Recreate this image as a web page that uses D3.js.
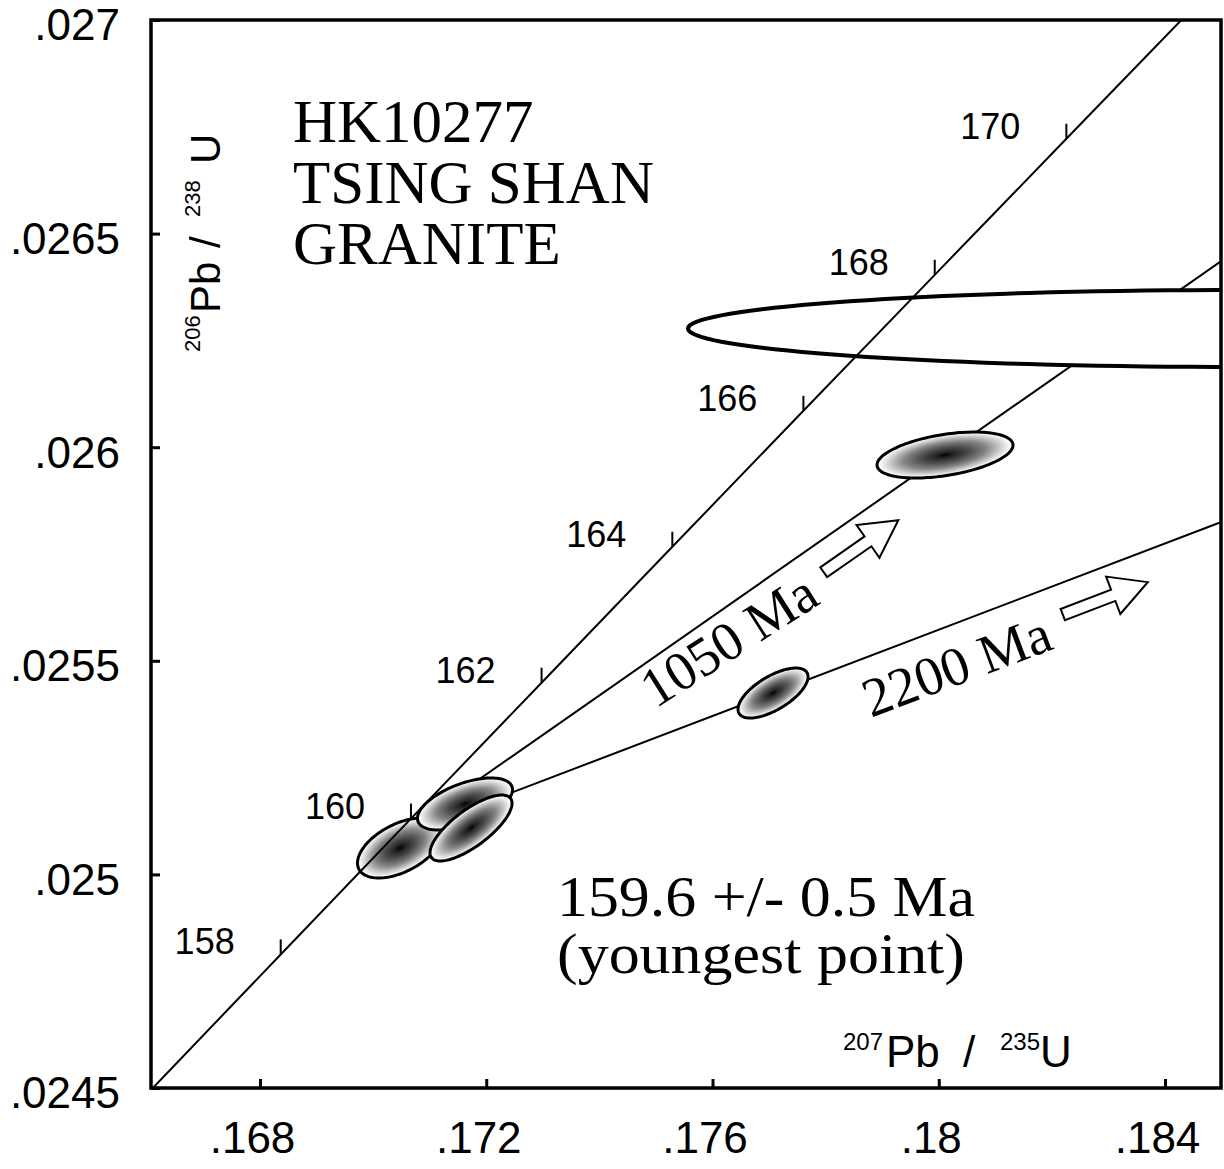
<!DOCTYPE html>
<html><head><meta charset="utf-8">
<script src="https://cdn.jsdelivr.net/npm/d3@7"></script>
<style>body{margin:0;background:#fff} svg{display:block}</style>
</head><body>
<svg id="chart" width="1224" height="1169"></svg>
<script>
// ---------------- data ----------------
const xTicks = [0.168, 0.172, 0.176, 0.180, 0.184];
const xTickLabels = [".168", ".172", ".176", ".18", ".184"];
const yTicks = [0.0245, 0.025, 0.0255, 0.026, 0.0265, 0.027];
const yTickLabels = [".0245", ".025", ".0255", ".026", ".0265", ".027"];

// concordia (207Pb/235U, 206Pb/238U) by age in Ma
const concordiaAges = [156, 158, 160, 162, 164, 166, 168, 170, 172];
const concordiaX = [0.166067, 0.168366, 0.170669, 0.172978, 0.175290, 0.177607, 0.179929, 0.182256, 0.184587];
const concordiaY = [0.0244947, 0.0248126, 0.0251306, 0.0254487, 0.0257669, 0.0260852, 0.0264035, 0.0267220, 0.0270406];
const concordiaTickAges = [158, 160, 162, 164, 166, 168, 170];

// error ellipses: centre, half-extent in x and y, correlation
const ellipseX   = [0.185326, 0.180111, 0.177070, 0.170475, 0.171624, 0.171731];
const ellipseY   = [0.0262778, 0.0259817, 0.0254246, 0.0250618, 0.0251648, 0.0251086];
const ellipseSX  = [0.009759, 0.001202, 0.000619, 0.000751, 0.000840, 0.000725];
const ellipseSY  = [0.0000901, 0.0000538, 0.0000585, 0.0000702, 0.0000609, 0.0000772];
const ellipseRho = [0.0, 0.43, 0.65, 0.5, 0.55, 0.75];
const ellipseShaded = [false, true, true, true, true, true];

// discordia lines from the young point towards upper intercepts
const discordiaLabels = ["1050 Ma", "2200 Ma"];
const lowerAnchorX = 0.17044, lowerAnchorY = 0.02509;
const upperInterceptX = [1.8126, 7.7292];
const upperInterceptY = [0.1769, 0.40675];

const titleLines = ["HK10277", "TSING SHAN", "GRANITE"];
const ageLines = ["159.6 +/- 0.5 Ma", "(youngest point)"];

// ---------------- drawing ----------------
const svg = d3.select("#chart");
const m = {l: 151, r: 1221, t: 20, b: 1088};
const x = d3.scaleLinear().domain([0.166073, 0.18499]).range([m.l, m.r]);
const y = d3.scaleLinear().domain([0.0245, 0.027]).range([m.b, m.t]);
const SANS = "'Liberation Sans', Arial, sans-serif";
const SERIF = "'Liberation Serif', 'Times New Roman', serif";

const defs = svg.append("defs");
defs.append("clipPath").attr("id", "plotclip").append("rect")
  .attr("x", m.l).attr("y", m.t).attr("width", m.r - m.l).attr("height", m.b - m.t);

const plot = svg.append("g").attr("clip-path", "url(#plotclip)");

// discordia lines
const X0 = x(lowerAnchorX), Y0 = y(lowerAnchorY);
const discordia = upperInterceptX.map((ux, i) => {
  const X1 = x(ux), Y1 = y(upperInterceptY[i]);
  const ang = Math.atan2(Y0 - Y1, X1 - X0);
  return {X1, Y1, ang};
});
plot.selectAll("line.disc").data(discordia).join("line")
  .attr("class", "disc")
  .attr("x1", X0).attr("y1", Y0).attr("x2", d => d.X1).attr("y2", d => d.Y1)
  .attr("stroke", "#000").attr("stroke-width", 2);

// ellipses
const thetas = d3.range(0, 144).map(k => k / 144 * 2 * Math.PI);
const ellLine = d3.line().curve(d3.curveLinearClosed);
ellipseX.forEach((cx, i) => {
  const sx = ellipseSX[i], sy = ellipseSY[i], r = ellipseRho[i];
  const q = Math.sqrt(1 - r * r);
  const pts = thetas.map(t => [x(cx + sx * Math.cos(t)), y(ellipseY[i] + sy * (r * Math.cos(t) + q * Math.sin(t)))]);
  let fill = "#fff";
  if (ellipseShaded[i]) {
    const Cx = x(cx), Cy = y(ellipseY[i]);
    const a = x(cx + sx) - Cx, b = y(ellipseY[i] + sy * r) - Cy, d = y(ellipseY[i] + sy * q) - Cy;
    const g = defs.append("radialGradient").attr("id", "eg" + i)
      .attr("gradientUnits", "userSpaceOnUse")
      .attr("cx", 0).attr("cy", 0).attr("r", 1).attr("fx", 0).attr("fy", 0)
      .attr("gradientTransform", `matrix(${a},${b},0,${d},${Cx},${Cy})`);
    [[0, "#000"], [0.12, "#222"], [0.35, "#4c4c4c"], [0.6, "#858585"], [0.82, "#cfcfcf"], [0.97, "#fff"], [1, "#fff"]]
      .forEach(([o, c]) => g.append("stop").attr("offset", o).attr("stop-color", c));
    fill = `url(#eg${i})`;
  }
  plot.append("path").attr("d", ellLine(pts))
    .attr("fill", fill).attr("stroke", "#000")
    .attr("stroke-width", ellipseShaded[i] ? 3 : 4);
});

// concordia
const concPts = concordiaAges.map((a, i) => [x(concordiaX[i]), y(concordiaY[i])]);
plot.append("path").attr("d", d3.line().curve(d3.curveCatmullRom)(concPts))
  .attr("fill", "none").attr("stroke", "#000").attr("stroke-width", 2);

concordiaTickAges.forEach(age => {
  const i = concordiaAges.indexOf(age);
  const px = x(concordiaX[i]), py = y(concordiaY[i]);
  plot.append("line").attr("x1", px).attr("x2", px).attr("y1", py).attr("y2", py - 15)
    .attr("stroke", "#000").attr("stroke-width", 2);
  svg.append("text").attr("x", px - 46).attr("y", py)
    .attr("text-anchor", "end").attr("font-family", SANS).attr("font-size", 36)
    .attr("fill", "#000").text(age);
});

// frame
svg.append("rect").attr("x", m.l).attr("y", m.t).attr("width", m.r - m.l).attr("height", m.b - m.t)
  .attr("fill", "none").attr("stroke", "#000").attr("stroke-width", 3.5);

// axes
const gy = svg.append("g").attr("transform", `translate(${m.l},0)`)
  .call(d3.axisLeft(y).tickValues(yTicks).tickFormat((d, i) => yTickLabels[i])
    .tickSizeInner(-9).tickSizeOuter(0).tickPadding(31));
gy.select(".domain").remove();
gy.selectAll(".tick line").attr("stroke", "#000").attr("stroke-width", 3);
gy.selectAll(".tick text").attr("font-family", SANS).attr("font-size", 44)
  .attr("fill", "#000").attr("dy", "0.45em");

const gx = svg.append("g").attr("transform", `translate(0,${m.b})`)
  .call(d3.axisBottom(x).tickValues(xTicks).tickFormat((d, i) => xTickLabels[i])
    .tickSizeInner(-9).tickSizeOuter(0).tickPadding(34));
gx.select(".domain").remove();
gx.selectAll(".tick line").attr("stroke", "#000").attr("stroke-width", 3);
gx.selectAll(".tick text").attr("font-family", SANS).attr("font-size", 44)
  .attr("fill", "#000").attr("dx", -8);

// axis titles
const xt = svg.append("g").attr("font-family", SANS).attr("fill", "#000");
[["207", 843, 1050, 24], ["Pb", 886, 1067, 44], ["/", 963, 1067, 44], ["235", 1000, 1050, 24], ["U", 1040, 1067, 44]]
  .forEach(([t, tx, ty, fs]) => xt.append("text").attr("x", tx).attr("y", ty).attr("font-size", fs).text(t));

const yt = svg.append("g").attr("font-family", SANS).attr("fill", "#000")
  .attr("transform", "translate(220,352) rotate(-90)");
[["206", 0, -20, 22], ["Pb", 39, 0, 42], ["/", 104, 0, 42], ["238", 135, -20, 22], ["U", 188, 0, 42]]
  .forEach(([t, tx, ty, fs]) => yt.append("text").attr("x", tx).attr("y", ty).attr("font-size", fs).text(t));

// title and result text
titleLines.forEach((t, i) => svg.append("text").attr("x", 293).attr("y", 142 + i * 61)
  .attr("font-family", SERIF).attr("font-size", 61).attr("fill", "#000").text(t));
const ageWidths = [418, 408];
ageLines.forEach((t, i) => svg.append("text").attr("x", 557).attr("y", 916 + i * 57)
  .attr("font-family", SERIF).attr("font-size", 57).attr("fill", "#000")
  .attr("textLength", ageWidths[i]).attr("lengthAdjust", "spacingAndGlyphs").text(t));

// discordia labels and hollow arrows
const labelAlong = [284, 484], labelOff = [43, 58], labelTilt = [2.5, 0.3];
const arrowAlong = [500, 700], arrowOff = [27.5, 30];
function arrowPath(L) {
  const hw = 6, hh = 20, hl = 37;
  return `M0,${-hw}L${L - hl},${-hw}L${L - hl},${-hh}L${L},0L${L - hl},${hh}L${L - hl},${hw}L0,${hw}Z`;
}
discordia.forEach((d, i) => {
  const c = Math.cos(d.ang), s = Math.sin(d.ang), deg = d.ang * 180 / Math.PI;
  const bx = X0 + labelAlong[i] * c + labelOff[i] * s;
  const by = Y0 - labelAlong[i] * s + labelOff[i] * c;
  svg.append("text").attr("transform", `translate(${bx},${by}) rotate(${-(deg - labelTilt[i])})`)
    .attr("x", 0).attr("y", 0)
    .attr("font-family", SERIF).attr("font-size", 55).attr("fill", "#000").text(discordiaLabels[i]);
  const ap = [X0 + arrowAlong[i] * c, Y0 - arrowAlong[i] * s];
  svg.append("g").attr("transform", `translate(${ap[0]},${ap[1]}) rotate(${-deg}) translate(0,${arrowOff[i]})`)
    .append("path").attr("d", arrowPath(91))
    .attr("fill", "#fff").attr("stroke", "#000").attr("stroke-width", 2).attr("stroke-linejoin", "miter");
});
</script>
</body></html>
